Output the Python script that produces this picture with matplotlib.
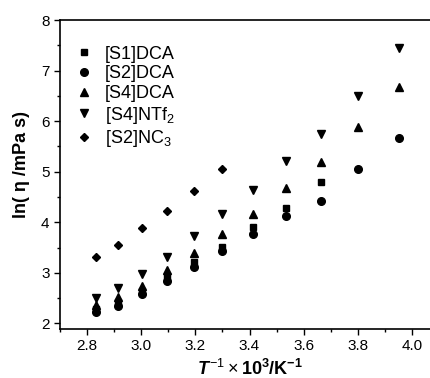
from matplotlib import pyplot as plt
from matplotlib.ticker import MultipleLocator

# inverse temperature, 1000/T
invT = [2.833, 2.915, 3.003, 3.096, 3.195, 3.300, 3.413, 3.534, 3.663, 3.802, 3.953]

# ln(viscosity / mPa s)
s1_dca = [2.28, 2.43, 2.65, 2.93, 3.22, 3.52, 3.90, 4.29, 4.79]
s2_dca = [2.22, 2.35, 2.58, 2.83, 3.11, 3.43, 3.77, 4.12, 4.43, 5.05, 5.67]
s4_dca = [2.37, 2.53, 2.75, 3.05, 3.40, 3.76, 4.17, 4.67, 5.19, 5.88, 6.68]
s4_ntf2 = [2.50, 2.70, 2.98, 3.32, 3.73, 4.16, 4.64, 5.21, 5.75, 6.50, 7.44]
s2_nc3 = [3.31, 3.56, 3.88, 4.22, 4.62, 5.05]

labels = ['[S1]DCA', '[S2]DCA', '[S4]DCA', '[S4]NTf$_2$', '[S2]NC$_3$']

plt.rcParams['font.family'] = ['Liberation Sans', 'DejaVu Sans']
plt.rcParams['mathtext.fontset'] = 'custom'
plt.rcParams['mathtext.rm'] = 'Liberation Sans'
plt.rcParams['mathtext.it'] = 'Liberation Sans:italic:bold'
plt.rcParams['mathtext.bf'] = 'Liberation Sans:bold'

fig = plt.figure(figsize=(4.3, 3.78), dpi=100)
ax = fig.add_axes([60 / 430, 1 - 328.5 / 378, 379 / 430, 308.5 / 378])

ax.plot(invT[:len(s1_dca)], s1_dca, 's', color='k', ms=4.5, label=labels[0])
ax.plot(invT, s2_dca, 'o', color='k', ms=5.5, label=labels[1])
ax.plot(invT, s4_dca, '^', color='k', ms=6, label=labels[2])
ax.plot(invT, s4_ntf2, 'v', color='k', ms=6, label=labels[3])
ax.plot(invT[:len(s2_nc3)], s2_nc3, 'D', color='k', ms=4.5, label=labels[4])

ax.set_xlim(2.7, 4.1)
ax.set_ylim(1.9, 8)
ax.xaxis.set_major_locator(MultipleLocator(0.2))
ax.xaxis.set_minor_locator(MultipleLocator(0.1))
ax.yaxis.set_major_locator(MultipleLocator(1))
ax.yaxis.set_minor_locator(MultipleLocator(0.5))
ax.tick_params(which='both', direction='out', top=False, right=False,
               labelsize=11, width=1)
ax.tick_params(which='major', length=4)
ax.tick_params(which='minor', length=2.5)
for s in ax.spines.values():
    s.set_linewidth(1.2)

ax.set_xlabel(r'$T^{-1}\times\mathbf{10^3/K^{-1}}$', fontsize=13, labelpad=4)
ax.set_ylabel('ln( η /mPa s)', fontsize=13, fontweight='bold')
ax.yaxis.set_label_coords(-0.08, 0.53)

ax.legend(loc='upper left', frameon=False, fontsize=13, handletextpad=0.55,
          labelspacing=0.15, borderaxespad=0.5, handlelength=1.2,
          bbox_to_anchor=(-0.008, 0.97))

fig.savefig('out.png', dpi=100)
